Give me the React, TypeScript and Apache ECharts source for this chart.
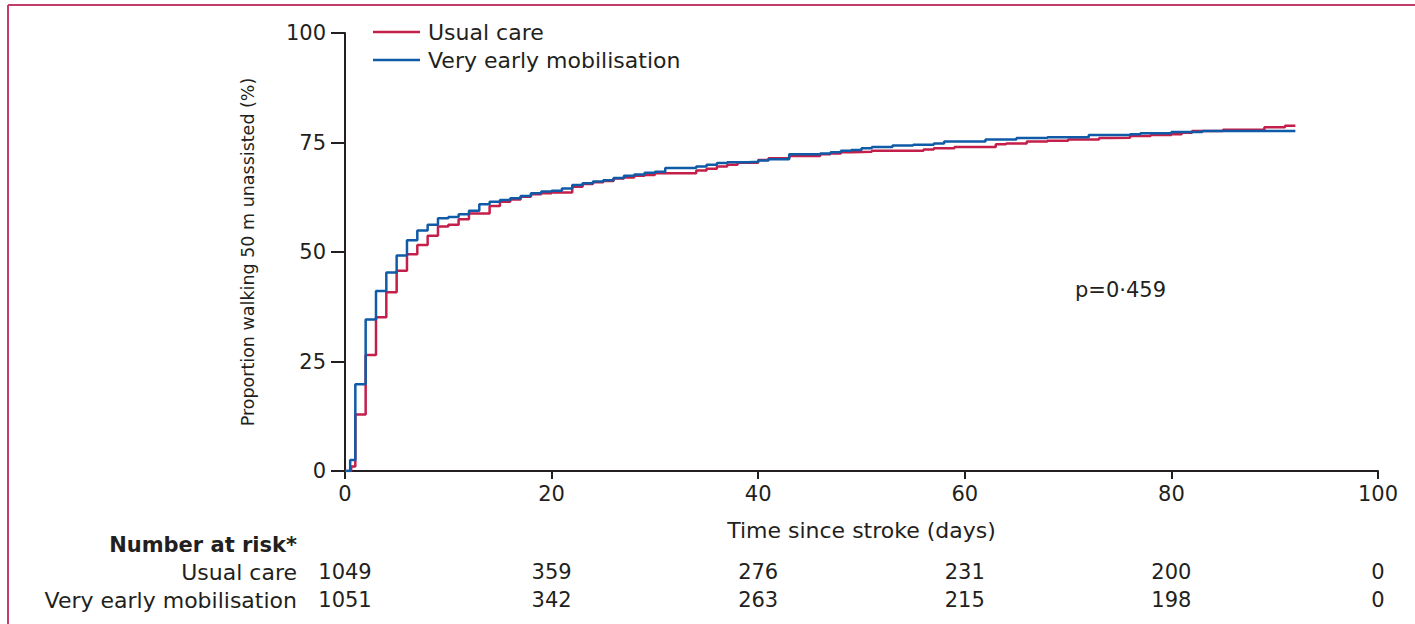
import React, { useEffect, useRef } from "react";
import * as echarts from "echarts";

// Kaplan–Meier style step data (days since stroke, % walking 50 m unassisted)
const usualCareDays = [0, 0.6, 1, 2, 3, 4, 5, 6, 7, 8, 9, 10, 11, 12, 14, 15, 16, 17, 18, 19, 20, 22, 23, 24, 25, 26, 27, 28, 29, 30, 34, 35, 36, 37, 38, 40, 41, 43, 46, 47, 48, 49, 51, 56, 57, 59, 63, 64, 66, 68, 70, 73, 74, 76, 78, 80, 81, 82, 85, 89, 91, 92];
const usualCareValues = [0, 1.0, 12.9, 26.5, 35.1, 40.8, 45.7, 49.5, 51.6, 53.7, 55.8, 56.2, 57.5, 58.8, 60.5, 61.5, 62.0, 62.6, 63.2, 63.4, 63.6, 64.9, 65.5, 65.9, 66.2, 66.8, 67.0, 67.4, 67.6, 68.0, 68.6, 69.0, 69.5, 69.9, 70.4, 71.0, 71.4, 71.9, 72.3, 72.5, 72.8, 72.9, 73.1, 73.4, 73.7, 74.0, 74.6, 74.8, 75.2, 75.4, 75.7, 76.0, 76.1, 76.5, 76.7, 76.9, 77.2, 77.6, 77.9, 78.5, 78.8, 78.8];

const vemDays = [0, 0.5, 1, 2, 3, 4, 5, 6, 7, 8, 9, 10, 11, 12, 13, 14, 15, 16, 17, 18, 19, 20, 21, 22, 23, 24, 25, 26, 27, 28, 29, 30, 31, 34, 35, 36, 37, 39, 40, 41, 43, 46, 47, 48, 49, 50, 51, 53, 55, 57, 58, 62, 65, 68, 72, 76, 77, 80, 83, 92];
const vemValues = [0, 2.5, 19.8, 34.6, 41.1, 45.3, 49.2, 52.7, 54.9, 56.2, 57.7, 58.0, 58.6, 59.4, 60.9, 61.5, 61.9, 62.3, 62.8, 63.4, 63.8, 64.0, 64.5, 65.3, 65.7, 66.1, 66.4, 66.9, 67.4, 67.7, 68.1, 68.3, 69.2, 69.5, 69.9, 70.3, 70.5, 70.6, 70.9, 71.2, 72.3, 72.5, 72.8, 73.1, 73.3, 73.7, 74.0, 74.3, 74.5, 74.8, 75.2, 75.7, 76.0, 76.2, 76.7, 76.9, 77.1, 77.4, 77.6, 77.6];

// Number at risk table
const riskTimes = [0, 20, 40, 60, 80, 100];
const usualCareAtRisk = [1049, 359, 276, 231, 200, 0];
const vemAtRisk = [1051, 342, 263, 215, 198, 0];

const seriesNames = ["Usual care", "Very early mobilisation"];
const pValueText = "p=0·459";

const TEXT = "#231f20";
const RED = "#c41e4a";
const BLUE = "#0f5ba7";
const FONT = "DejaVu Sans, sans-serif";

const zip = (xs: number[], ys: number[]) => xs.map((x, i) => [x, ys[i]]);

export default function App() {
  const ref = useRef<HTMLDivElement>(null);

  useEffect(() => {
    if (!ref.current) return;
    const chart = echarts.init(ref.current, null, { renderer: "svg" });

    const riskAxis = (name: string, values: number[], offset: number) => ({
      type: "value",
      min: 0,
      max: 100,
      interval: 20,
      position: "bottom",
      offset,
      axisLine: { show: false },
      axisTick: { show: false },
      splitLine: { show: false },
      axisLabel: {
        show: true,
        margin: 0,
        verticalAlign: "middle",
        showMinLabel: true,
        showMaxLabel: true,
        fontSize: 21,
        fontFamily: FONT,
        color: TEXT,
        formatter: (v: number) => {
          const i = riskTimes.indexOf(v);
          return i >= 0 ? String(values[i]) : "";
        },
      },
      name,
      nameLocation: "start",
      nameGap: 48,
      nameTextStyle: { fontSize: 22, fontFamily: FONT, color: TEXT, align: "right", verticalAlign: "middle" },
    });

    chart.setOption({
      animation: false,
      backgroundColor: "#ffffff",
      textStyle: { fontFamily: FONT, color: TEXT },
      grid: { left: 345, right: 37, top: 33, bottom: 153, containLabel: false },
      legend: {
        data: seriesNames.map((n) => ({ name: n, icon: "rect" })),
        orient: "vertical",
        left: 373,
        top: 21,
        padding: 0,
        itemWidth: 47,
        itemHeight: 2.5,
        itemGap: 6,
        textStyle: { fontSize: 22, fontFamily: FONT, color: TEXT, padding: [0, 0, 0, 3] },
      },
      xAxis: [
        {
          type: "value",
          min: 0,
          max: 100,
          interval: 20,
          axisLine: { show: true, lineStyle: { color: TEXT, width: 2 } },
          axisTick: { show: true, length: 8, lineStyle: { color: TEXT, width: 2 } },
          splitLine: { show: false },
          axisLabel: { fontSize: 21, fontFamily: FONT, color: TEXT, margin: 12, showMinLabel: true, showMaxLabel: true },
          name: "Time since stroke (days)",
          nameLocation: "middle",
          nameGap: 48,
          nameTextStyle: { fontSize: 22, fontFamily: FONT, color: TEXT },
        },
        riskAxis(seriesNames[0], usualCareAtRisk, 101),
        riskAxis(seriesNames[1], vemAtRisk, 129),
      ],
      yAxis: {
        type: "value",
        min: 0,
        max: 100,
        interval: 25,
        axisLine: { show: true, lineStyle: { color: TEXT, width: 2 } },
        axisTick: { show: true, length: 14, lineStyle: { color: TEXT, width: 2 } },
        splitLine: { show: false },
        axisLabel: { fontSize: 21, fontFamily: FONT, color: TEXT, margin: 19 },
        name: "Proportion walking 50 m unassisted (%)",
        nameLocation: "middle",
        nameRotate: 90,
        nameGap: 88,
        nameTextStyle: { fontSize: 17.5, fontFamily: FONT, color: TEXT },
      },
      series: [
        {
          name: seriesNames[0],
          type: "line",
          step: "end",
          symbol: "none",
          xAxisIndex: 0,
          data: zip(usualCareDays, usualCareValues),
          lineStyle: { color: RED, width: 2.5 },
          itemStyle: { color: RED },
          z: 2,
        },
        {
          name: seriesNames[1],
          type: "line",
          step: "end",
          symbol: "none",
          xAxisIndex: 0,
          data: zip(vemDays, vemValues),
          lineStyle: { color: BLUE, width: 2.5 },
          itemStyle: { color: BLUE },
          z: 3,
        },
      ],
      graphic: [
        { type: "line", shape: { x1: 8, y1: 5, x2: 1415, y2: 5 }, style: { stroke: "#c43c6c", lineWidth: 2 } },
        { type: "line", shape: { x1: 8, y1: 5, x2: 8, y2: 624 }, style: { stroke: "#c43c6c", lineWidth: 2 } },
        {
          type: "text",
          x: 1075,
          y: 290,
          style: { text: pValueText, fontSize: 21, fontFamily: FONT, fill: TEXT, textAlign: "left", textVerticalAlign: "middle" },
        },
        {
          type: "text",
          x: 297,
          y: 545,
          style: { text: "Number at risk*", fontSize: 21, fontWeight: "bold", fontFamily: FONT, fill: TEXT, textAlign: "right", textVerticalAlign: "middle" },
        },
      ],
    });

    return () => chart.dispose();
  }, []);

  return (
    <div
      ref={ref}
      style={{ position: "fixed", left: 0, top: 0, width: 1415, height: 624, background: "#fff" }}
    />
  );
}
